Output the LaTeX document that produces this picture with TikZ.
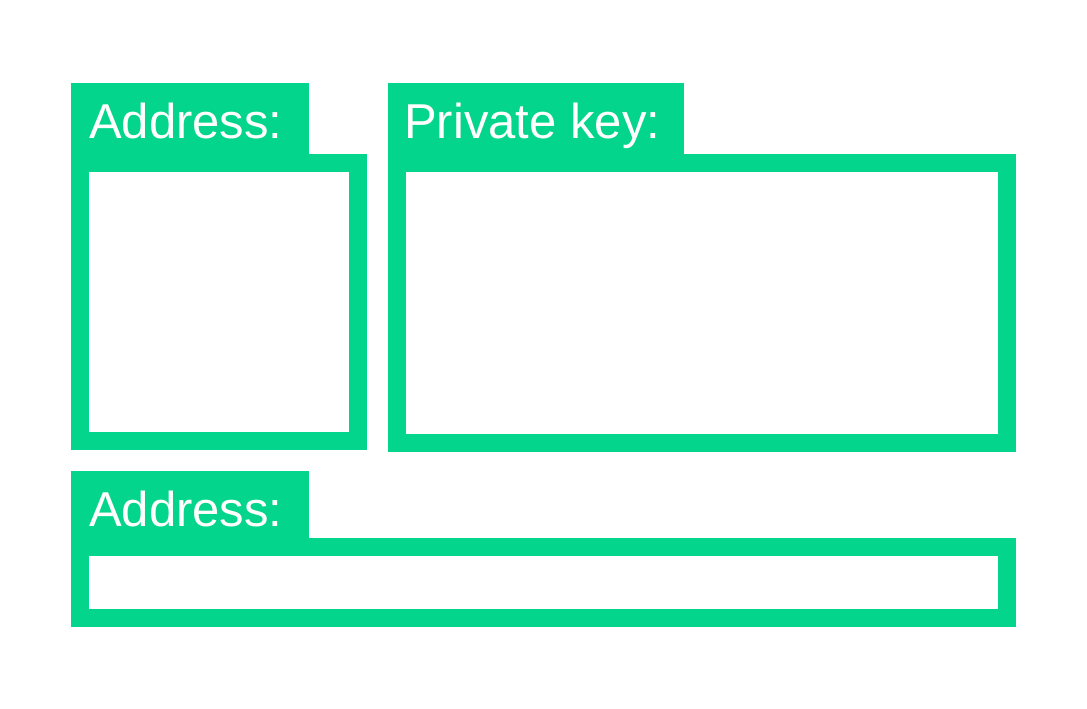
\documentclass[tikz,border=0pt]{standalone}
\usepackage{fontspec}
\setmainfont{Liberation Sans}
\usepackage{tikz}
\usetikzlibrary{positioning}

\definecolor{keygreen}{RGB}{3,213,140}

\begin{document}
\begin{tikzpicture}[
  x=1pt, y=-1pt,
  tab/.style={rectangle, fill=keygreen, inner sep=0pt, anchor=north west},
  tabtext/.style={anchor=base west, inner sep=0pt, text=white, font=\fontsize{49}{51}\selectfont},
  frame/.style={draw=keygreen, line width=18pt}
]
\useasboundingbox (0,0) rectangle (1087,709);

% ===== ADDRESS (SQUARE) =====
\node[tab, minimum width=238pt, minimum height=71pt] (addrtab) at (71,83) {};
\node[tabtext] (addrtext) at ([xshift=18pt, yshift=-55pt]addrtab.north west) {Address:};
\draw[frame] (80,163) rectangle (358,441);

% ===== PRIVATE KEY =====
\node[tab, minimum width=296pt, minimum height=71pt] (keytab) at (388,83) {};
\node[tabtext] (keytext) at ([xshift=16pt, yshift=-55pt]keytab.north west) {Private key:};
\draw[frame] (397,163) rectangle (1007,443);

% ===== ADDRESS (LINE) =====
\node[tab, minimum width=238pt, minimum height=67pt] (linetab) at (71,471) {};
\node[tabtext] (linetext) at ([xshift=18pt, yshift=-55pt]linetab.north west) {Address:};
\draw[frame] (80,546.5) rectangle (1007,618);
\end{tikzpicture}
\end{document}
